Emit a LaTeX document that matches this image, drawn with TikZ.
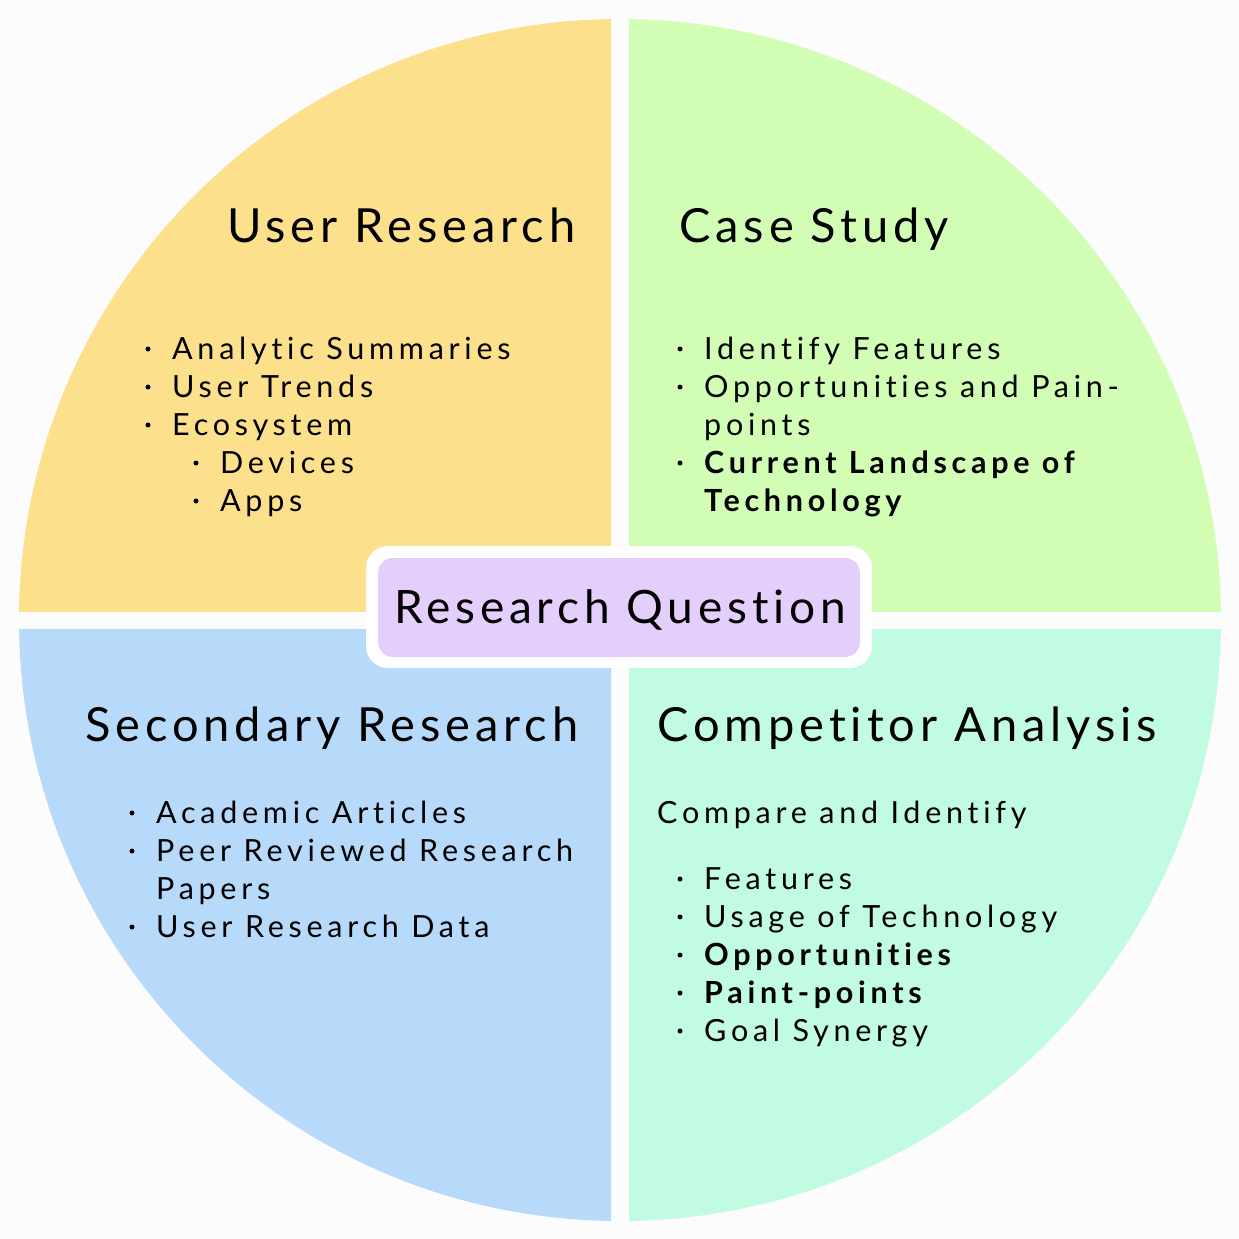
\documentclass[tikz,border=0pt]{standalone}
\usepackage{fontspec}
\setmainfont{Lato}
\newfontfamily\bodyf[LetterSpace=15.5,Ligatures={NoCommon,NoRare}]{Lato}
\newfontfamily\headf[LetterSpace=10.5,Ligatures={NoCommon,NoRare}]{Lato}
\definecolor{bgc}{RGB}{252,252,252}
\definecolor{qyellow}{RGB}{253,224,139}
\definecolor{qgreen}{RGB}{209,253,181}
\definecolor{qblue}{RGB}{184,218,250}
\definecolor{qmint}{RGB}{193,251,225}
\definecolor{qpurple}{RGB}{228,207,252}
\tikzset{
  heading/.style={anchor=base west, inner sep=0pt, font=\headf\fontsize{47}{56}\selectfont},
  body/.style={anchor=base west, inner sep=0pt, font=\bodyf\fontsize{30.5}{38}\selectfont},
  bodyb/.style={body, font=\bodyf\bfseries\fontsize{30.5}{38}\selectfont},
  dotmark/.style={circle, fill=black, inner sep=0pt, minimum size=5pt},
}
\begin{document}
\begin{tikzpicture}[x=1pt,y=-1pt]
\fill[bgc] (0,0) rectangle (1239,1239);
\useasboundingbox (0,0) rectangle (1239,1239);
% quadrants
\begin{scope}\clip (0,0) rectangle (611,611);\fill[qyellow] (620,620) circle[radius=601];\end{scope}
\begin{scope}\clip (629,0) rectangle (1239,611);\fill[qgreen] (620,620) circle[radius=601];\end{scope}
\begin{scope}\clip (0,629) rectangle (611,1239);\fill[qblue] (620,620) circle[radius=601];\end{scope}
\begin{scope}\clip (629,629) rectangle (1239,1239);\fill[qmint] (620,620) circle[radius=601];\end{scope}
% center box
\fill[white, rounded corners=22pt] (366,546) rectangle (872,668);
\fill[qpurple, rounded corners=15pt] (378,558) rectangle (860,657);
\node[anchor=base, inner sep=0pt, font=\headf\fontsize{46}{56}\selectfont] (rq) at (620,623) {Research Question};
% headings
\node[heading] (h1) at (227,242) {User Research};
\node[heading] (h2) at (679,242) {Case Study};
\node[heading] (h3) at (85,741) {Secondary Research};
\node[heading] (h4) at (657,741) {Competitor Analysis};
% TL items
\node[dotmark] (d11) at (148,349) {};
\node[body] (t11) at (172,359) {Analytic Summaries};
\node[dotmark] (d12) at (148,387) {};
\node[body] (t12) at (172,397) {User Trends};
\node[dotmark] (d13) at (148,425) {};
\node[body] (t13) at (172,435) {Ecosystem};
\node[dotmark] (d14) at (196,463) {};
\node[body] (t14) at (220,473) {Devices};
\node[dotmark] (d15) at (196,501) {};
\node[body] (t15) at (220,511) {Apps};
% TR items
\node[dotmark] (d21) at (680,349) {};
\node[body] (t21) at (704,359) {Identify Features};
\node[dotmark] (d22) at (680,387) {};
\node[body] (t22) at (704,397) {Opportunities and Pain-};
\node[body] (t22b) at (704,435) {points};
\node[dotmark] (d23) at (680,463) {};
\node[bodyb] (t23) at (704,473) {Current Landscape of};
\node[bodyb] (t23b) at (704,511) {Technology};
% BL items
\node[dotmark] (d31) at (132,813) {};
\node[body] (t31) at (156,823) {Academic Articles};
\node[dotmark] (d32) at (132,851) {};
\node[body] (t32) at (156,861) {Peer Reviewed Research};
\node[body] (t32b) at (156,899) {Papers};
\node[dotmark] (d33) at (132,927) {};
\node[body] (t33) at (156,937) {User Research Data};
% BR items
\node[body] (t40) at (657,823) {Compare and Identify};
\node[dotmark] (d41) at (680,879) {};
\node[body] (t41) at (704,889) {Features};
\node[dotmark] (d42) at (680,917) {};
\node[body] (t42) at (704,927) {Usage of Technology};
\node[dotmark] (d43) at (680,955) {};
\node[bodyb] (t43) at (704,965) {Opportunities};
\node[dotmark] (d44) at (680,993) {};
\node[bodyb] (t44) at (704,1003) {Paint-points};
\node[dotmark] (d45) at (680,1031) {};
\node[body] (t45) at (704,1041) {Goal Synergy};
\end{tikzpicture}
\end{document}
